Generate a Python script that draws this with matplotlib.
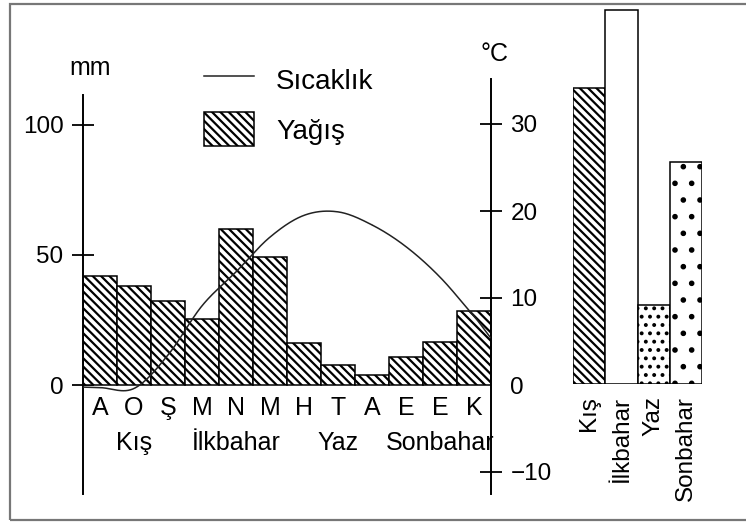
import numpy as np
import matplotlib
matplotlib.use("Agg")
import matplotlib.pyplot as plt
from matplotlib.lines import Line2D
from matplotlib.patches import Patch, Rectangle

plt.rcParams['font.family'] = ['Liberation Sans', 'DejaVu Sans']
plt.rcParams['hatch.linewidth'] = 1.6
plt.rcParams['hatch.color'] = 'black'

months = ['A', 'O', 'Ş', 'M', 'N', 'M', 'H', 'T', 'A', 'E', 'E', 'K']
rain = [42.0, 38.2, 32.3, 25.4, 59.9, 49.1, 16.0, 7.7, 3.8, 10.6, 16.7, 28.5]
temp = [-0.3, -0.4, 3.45, 9.1, 13.0, 17.0, 19.5, 19.9, 18.4, 15.9, 12.4, 7.9]
seasons = ['Kış', 'İlkbahar', 'Yaz', 'Sonbahar']
season_share = [30.5, 38.5, 8.1, 22.9]
season_hatch = ['\\\\\\\\', '', '..', '.']

W, H = 746, 522


def box(x0, y0, x1, y1):
    # pixel box (top-left origin) -> figure fraction rect
    return [x0 / W, 1 - y1 / H, (x1 - x0) / W, (y1 - y0) / H]


def smooth(y, n=30):
    # Catmull-Rom through monthly means, stretched to the plot edges
    y = np.asarray(y, float)
    p = np.concatenate([[2 * y[0] - y[1]] * 2, y, [2 * y[-1] - y[-2]] * 2])
    xs, ys = [], []
    for i in range(1, len(p) - 2):
        t = np.linspace(0, 1, n)
        p0, p1, p2, p3 = p[i - 1], p[i], p[i + 1], p[i + 2]
        v = 0.5 * (2 * p1 + (-p0 + p2) * t + (2 * p0 - 5 * p1 + 4 * p2 - p3) * t ** 2
                   + (-p0 + 3 * p1 - 3 * p2 + p3) * t ** 3)
        xs.append(i - 1.5 + t)
        ys.append(v)
    xs, ys = np.concatenate(xs), np.concatenate(ys)
    keep = (xs >= 0) & (xs <= len(y))
    return xs[keep], ys[keep]


fig = plt.figure(figsize=(W / 100, H / 100), dpi=100)

# outer frame
fig.add_artist(Rectangle((10 / W, 1 - 520 / H), 800 / W, 516 / H,
                         transform=fig.transFigure, fill=False,
                         edgecolor='#777777', lw=1.6))

ax = fig.add_axes(box(83, 79, 491, 494))
px_mm = 2.6
ax.set_ylim((385 - 494) / px_mm, (385 - 79) / px_mm)
ax.set_xlim(0, 12)
x = np.arange(12) + 0.5
ax.bar(x, rain, width=1, facecolor='white', edgecolor='black', lw=1.1,
       hatch='\\\\\\\\', zorder=2)

for s in ['top', 'right']:
    ax.spines[s].set_visible(False)
ax.spines['bottom'].set_position(('data', 0))
ax.spines['bottom'].set_color('none')
ax.spines['left'].set_linewidth(1.4)
ax.spines['left'].set_bounds((385 - 494) / px_mm, (385 - 95) / px_mm)
ax.set_yticks([0, 50, 100])
ax.tick_params(axis='y', direction='inout', length=16, width=1.3,
               labelsize=17.5, pad=6)
ax.yaxis.get_major_ticks()[0].tick1line.set_visible(False)
ax.set_xticks(x)
ax.set_xticklabels(months)
ax.tick_params(axis='x', length=0, labelsize=18, pad=8)

ax.text(90, H - 68, 'mm', transform=None, fontsize=18, ha='center', va='center')

# season names under the month letters
for i, name in enumerate(seasons):
    ax.text(3 * i + 1.5, (385 - 450) / px_mm, name, fontsize=18,
            ha='center', va='baseline')

ax2 = ax.twinx()
px_c = 8.7
ax2.set_ylim((385 - 494) / px_c, (385 - 79) / px_c)
xs, ys = smooth(temp)
ax2.plot(xs, ys, color='#222222', lw=1.1, zorder=3)
for s in ['top', 'left', 'bottom']:
    ax2.spines[s].set_visible(False)
ax2.spines['right'].set_linewidth(1.4)
ax2.set_yticks([-10, 0, 10, 20, 30])
ax2.tick_params(axis='y', direction='inout', length=16, width=1.3,
                labelsize=17.5, pad=6)
ax2.yaxis.get_major_ticks()[1].tick2line.set_visible(False)
ax2.text(495, H - 54, '°C', transform=None, fontsize=18, ha='center', va='center')

handles = [Line2D([], [], color='#222222', lw=1.1),
           Patch(facecolor='white', edgecolor='black', hatch='\\\\\\\\', lw=1.1)]
ax.legend(handles, ['Sıcaklık', 'Yağış'], loc='upper left', frameon=False,
          fontsize=20, handlelength=1.8, handleheight=1.5, handletextpad=0.8,
          labelspacing=0.56, borderpad=0, borderaxespad=0,
          bbox_to_anchor=(204 / W, 1 - 63 / H), bbox_transform=fig.transFigure)

# seasonal share panel
ax3 = fig.add_axes(box(573, 4, 702, 384))
ax3.set_xlim(-0.5, 3.5)
ax3.set_ylim(0, 380 / 9.71)
for i, (v, h) in enumerate(zip(season_share, season_hatch)):
    ax3.bar(i, v, width=1, facecolor='white', edgecolor='black', lw=1.1, hatch=h)
for s in ax3.spines.values():
    s.set_visible(False)
ax3.set_yticks([])
ax3.set_xticks(range(4))
ax3.set_xticklabels(seasons, rotation=90)
ax3.tick_params(axis='x', length=0, labelsize=17.5, pad=9)

fig.savefig('out.png', dpi=100)
